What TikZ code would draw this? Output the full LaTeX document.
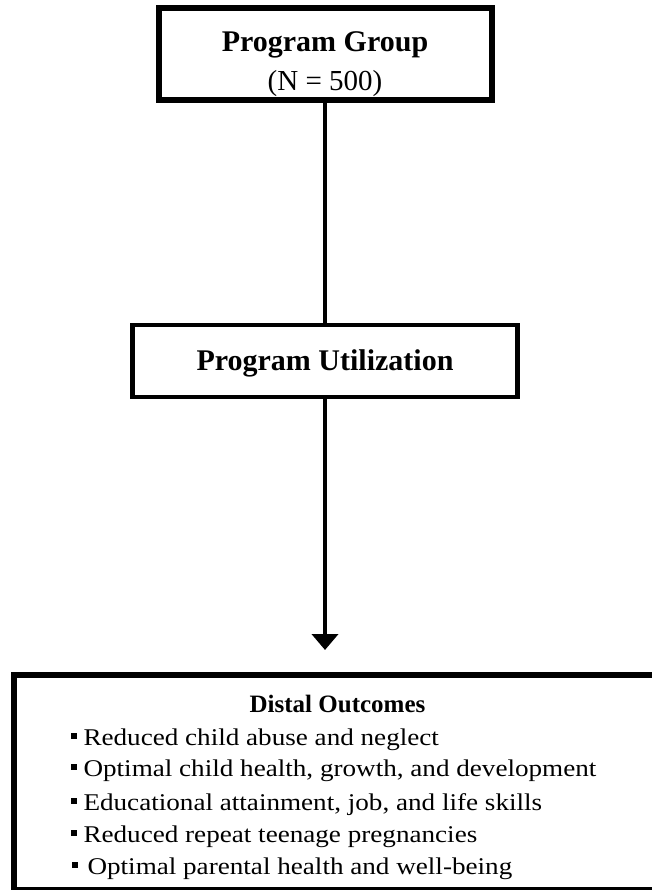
\documentclass[tikz,border=0pt]{standalone}
\usepackage{fontspec}
\setmainfont{Liberation Serif}
\newfontfamily\listfont{Liberation Serif}[FakeStretch=1.13]
\usetikzlibrary{arrows.meta}

\begin{document}
\begin{tikzpicture}[
  x=1pt, y=-1pt,
  box/.style={draw, line width=6pt, rectangle, inner sep=0pt, outer sep=0pt},
  link/.style={line width=4.5pt},
  arr/.style={-{Triangle[width=26pt, length=16pt]}, line width=4.5pt},
  title/.style={font=\fontsize{30}{34}\selectfont\bfseries, anchor=base},
  item/.style={font=\listfont\fontsize{24}{28}\selectfont, anchor=base west}
]
\useasboundingbox (0,0) rectangle (652,890);

%% ===== boxes =====
\node[box, minimum width=333pt, minimum height=92.5pt] (group) at (325,54.25) {};
\node[box, line width=4.5pt, minimum width=385pt, minimum height=72pt] (util) at (325,361) {};
\node[box, minimum width=642pt, minimum height=215pt] (outcomes) at (335,782.5) {};

%% ===== box texts =====
\node[title] (grouptitle) at (325,52) {Program Group};
\node[font=\fontsize{29}{32}\selectfont, anchor=base] (groupn) at (325,91) {(N = 500)};
\node[title] (utiltitle) at (325,370) {Program Utilization};

\node[font=\fontsize{25}{28}\selectfont\bfseries, anchor=base] (outtitle) at (337.5,712) {Distal Outcomes};
\node[item] (o1) at (67,745) {\rule[6pt]{6pt}{6pt}\hspace{7pt}Reduced child abuse and neglect};
\node[item] (o2) at (67,776) {\rule[6pt]{6pt}{6pt}\hspace{7pt}Optimal child health, growth, and development};
\node[item] (o3) at (67,810) {\rule[6pt]{6pt}{6pt}\hspace{7pt}Educational attainment, job, and life skills};
\node[item] (o4) at (67,842) {\rule[6pt]{6pt}{6pt}\hspace{7pt}Reduced repeat teenage pregnancies};
\node[item] (o5) at (68,874) {\rule[6pt]{6pt}{6pt}\hspace{10pt}Optimal parental health and well-being};

%% ===== connectors =====
\draw[link] (group.south) -- (util.north);
\draw[arr, shorten >=25pt] (util.south) -- (util.south |- outcomes.north);

\end{tikzpicture}
\end{document}
